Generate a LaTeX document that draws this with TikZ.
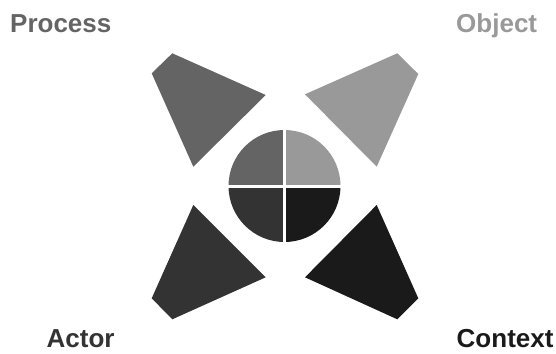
\documentclass[tikz,border=0pt]{standalone}
\usepackage{fontspec}
\setmainfont{Liberation Sans}
\definecolor{cTL}{HTML}{646464}
\definecolor{cTR}{HTML}{999999}
\definecolor{cBL}{HTML}{333333}
\definecolor{cBR}{HTML}{1A1A1A}
\tikzset{
  lbl/.style={anchor=base west, inner sep=0pt, font=\fontsize{26}{26}\selectfont\bfseries},
  gap/.style={white, line width=3pt},
}
\begin{document}
\begin{tikzpicture}[x=1pt,y=-1pt]
\useasboundingbox (0,0) rectangle (556,353);
% labels
\node[lbl, text=cTL] (process) at (10,33) {Process};
\node[lbl, text=cTR] (object) at (456,33) {Object};
\node[lbl, text=cBL] (actor) at (46.5,347) {Actor};
\node[lbl, text=cBR] (context) at (456.5,347) {Context};
% petals
\fill[cTL] (172.3,53.3) -- (151.7,73.3) -- (193.3,166.7) -- (265.7,95) -- cycle;
\fill[cTR] (397.3,53.3) -- (418.3,74) -- (376.7,166.7) -- (305,94.3) -- cycle;
\fill[cBL] (193.3,205) -- (265.7,277.3) -- (172.3,319.3) -- (151.7,298.3) -- cycle;
\fill[cBR] (376.7,205) -- (418.3,298.3) -- (397.3,319.3) -- (305,277.3) -- cycle;
% center disc
\coordinate (c) at (284.5,186);
\fill[cTL] (c) -- ++(-56,0) arc[start angle=180, end angle=270, radius=56] -- cycle;
\fill[cTR] (c) -- ++(0,-56) arc[start angle=270, end angle=360, radius=56] -- cycle;
\fill[cBR] (c) -- ++(56,0) arc[start angle=0, end angle=90, radius=56] -- cycle;
\fill[cBL] (c) -- ++(0,56) arc[start angle=90, end angle=180, radius=56] -- cycle;
\draw[gap] ([xshift=-58pt]c) -- ([xshift=58pt]c);
\draw[gap] ([yshift=-58pt]c) -- ([yshift=58pt]c);
\end{tikzpicture}
\end{document}
